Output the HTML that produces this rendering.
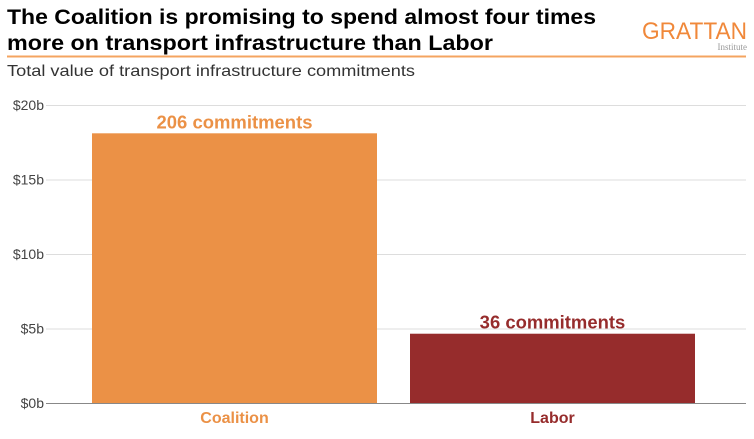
<!DOCTYPE html>
<html><head><meta charset="utf-8"><style>
body{margin:0;background:#fff;width:754px;height:434px;overflow:hidden;font-family:"Liberation Sans",sans-serif;}
</style></head><body>
<svg width="754" height="434" xmlns="http://www.w3.org/2000/svg">
<text x="7" y="24" font-size="21" font-weight="bold" fill="#000" textLength="589" lengthAdjust="spacingAndGlyphs">The Coalition is promising to spend almost four times</text>
<text x="7" y="50" font-size="21" font-weight="bold" fill="#000" textLength="486" lengthAdjust="spacingAndGlyphs">more on transport infrastructure than Labor</text>
<text x="747" y="39" font-size="24" fill="#f0883a" text-anchor="end" textLength="105" lengthAdjust="spacingAndGlyphs">GRATTAN</text>
<text x="747" y="50" font-size="9" font-family="Liberation Serif,serif" fill="#999" text-anchor="end">Institute</text>
<line x1="7" y1="56.5" x2="746" y2="56.5" stroke="#f4a460" stroke-width="2"/>
<text x="7" y="76" font-size="16" fill="#333" textLength="408" lengthAdjust="spacingAndGlyphs">Total value of transport infrastructure commitments</text>
<g id="axis"></g><g id="bars"></g>
</svg>
<script>
const categories=["Coalition","Labor"];
const values=[18.1,4.65];
const labels=["206 commitments","36 commitments"];
const ticks=[0,5,10,15,20];
const tickLabels=["$0b","$5b","$10b","$15b","$20b"];
const colors=["#eb9146","#962c2c"];
const NS="http://www.w3.org/2000/svg";
const y=v=>403-v*14.9;
const bx=[92,410],bw=285;
const ax=document.getElementById("axis"),bg=document.getElementById("bars");
function mk(t,a,p){const e=document.createElementNS(NS,t);for(const k in a)e.setAttribute(k,a[k]);p.appendChild(e);return e;}
ticks.forEach((t,i)=>{
 const l=mk("line",{x1:46,x2:746,y1:y(t)+0.5,y2:y(t)+0.5,stroke:t===0?"#888":"#ddd","stroke-width":1},ax);
 
 
 const tx=mk("text",{x:44,y:y(t)+5,"font-size":14,fill:"#444","text-anchor":"end"},ax);
 tx.textContent=tickLabels[i];
 
 
});
categories.forEach((c,i)=>{
 const r=mk("rect",{x:bx[i],y:y(values[i]),width:bw,height:403-y(values[i]),fill:colors[i]},bg);
 
 
 const lt=mk("text",{x:bx[i]+bw/2,y:y(values[i])-5,"font-size":18,"font-weight":"bold",fill:colors[i],"text-anchor":"middle",textLength:labels[i].length*10.4,lengthAdjust:"spacingAndGlyphs"},bg);
 lt.textContent=labels[i];
 
 
 const ct=mk("text",{x:bx[i]+bw/2,y:423,"font-size":16,"font-weight":"bold",fill:colors[i],"text-anchor":"middle"},bg);
 ct.textContent=c;
 
 
});
</script>
</body></html>
